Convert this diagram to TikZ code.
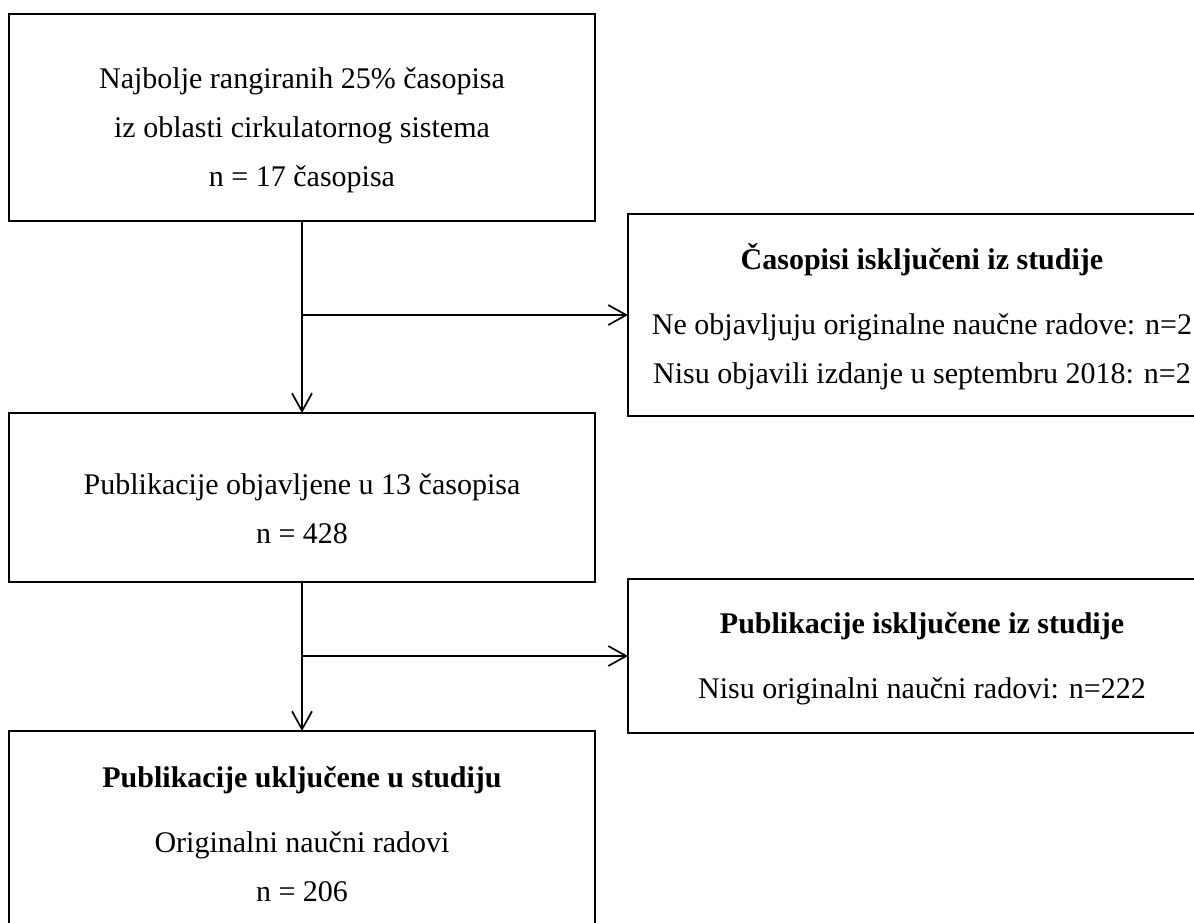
\documentclass[tikz,border=0pt]{standalone}
\usepackage{fontspec}
\setmainfont{Liberation Serif}
\usetikzlibrary{arrows.meta}

\begin{document}
\begin{tikzpicture}[x=0.5pt,y=-0.5pt]
\useasboundingbox (0,0) rectangle (1194,922);
			\begin{scope}[every node/.style={rectangle,draw,line width=0.6pt,inner sep=0pt,outer sep=0pt}]
    \node[minimum width=293pt, minimum height=103.5pt] (B1) at (302,117.5) {};
    \node[minimum width=293pt, minimum height=84.5pt] (B2) at (302,497.5) {};
    \node[minimum width=293pt, minimum height=125pt] (B3) at (302,856) {};
    \node[minimum width=294pt, minimum height=101pt] (R1) at (922,315) {};
    \node[minimum width=294pt, minimum height=77pt] (R2) at (922,656) {};
			\end{scope}
			\begin{scope}[every node/.style={align=center,inner sep=0pt,anchor=base,font=\fontsize{15}{24.5}\selectfont}]
    \node (T1) at (302,186) {Najbolje rangiranih 25\% časopisa\\iz oblasti cirkulatornog sistema\\n = 17 časopisa};
    \node (T2) at (302,543) {Publikacije objavljene u 13 časopisa\\n = 428};
    \node (T3) at (302,901) {\textbf{Publikacije uključene u studiju}\\[8pt]Originalni naučni radovi\\n = 206};
    \node (S1) at (922,383) {\textbf{Časopisi isključeni iz studije}\\[8pt]Ne objavljuju originalne naučne radove: n=2\\Nisu objavili izdanje u septembru 2018: n=2};
    \node (S2) at (922,698) {\textbf{Publikacije isključene iz studije}\\[8pt]Nisu originalni naučni radovi: n=222};
			\end{scope}
			\begin{scope}[>={Straight Barb[length=9pt,width=10pt]},
              every edge/.style={draw,line width=0.85pt}]
    \path [->] (B1) edge (B2);
    \path [->] (B2) edge (B3);
    \path [->] (B1.south |- R1.west) edge (R1.west);
    \path [->] (B2.south |- R2.west) edge (R2.west);
			\end{scope}
\end{tikzpicture}
\end{document}
